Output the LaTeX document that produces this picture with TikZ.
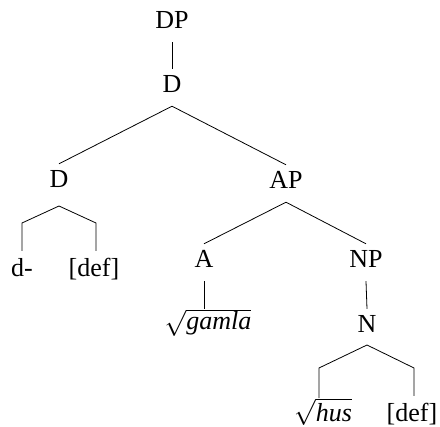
\RequirePackage{fix-cm}
\documentclass[tikz,border=0pt]{standalone}
\usepackage{fontspec}
\setmainfont{Liberation Serif}
\begin{document}
\begin{tikzpicture}[x=1pt,y=1pt,
  every node/.style={font=\fontsize{26}{30}\selectfont},
  cat/.style={anchor=base,text height=17pt,text depth=6pt,inner xsep=2pt,inner ysep=7pt},
  leaf/.style={anchor=base,text height=18pt,text depth=6pt,inner xsep=2pt,inner ysep=8pt},
  rootnode/.style={anchor=base,inner sep=0pt},
  edge/.style={line width=0.8pt}]
\useasboundingbox (0,0) rectangle (440,-427);
% nodes
\node[cat] (DP) at (172,-29) {DP};
\node[cat] (D1) at (172,-93) {D};
\node[cat] (D2) at (59,-188) {D};
\node[cat] (AP) at (286,-189) {AP};
\node[leaf] (dm) at (22,-277) {d-};
\node[leaf] (def1) at (94,-277) {[def]};
\node[cat] (A) at (204,-268) {A};
\node[cat] (NP) at (366,-268) {NP};
\node[rootnode] (gamla) at (208,-330) {$\sqrt{\mbox{\itshape gamla}}$};
\node[cat] (N) at (367,-333) {N};
\node[rootnode] (hus) at (323,-422) {$\sqrt{\mbox{\itshape hus}}$};
\node[leaf] (def2) at (412,-422) {[def]};
% bracket points
\coordinate (dapex) at (59,-206);
\coordinate (dl) at (22,-223);
\coordinate (dr) at (96,-223);
\coordinate (napex) at (367,-345);
\coordinate (nl) at (319,-368);
\coordinate (nr) at (414,-368);
% connectors
\draw[edge] (DP.south) -- (D1.north);
\draw[edge] (D1.south) -- (D2.north);
\draw[edge] (D1.south) -- (AP.north);
\draw[edge] (dm.north) -- (dl) -- (dapex) -- (dr) -- (dr |- def1.north);
\draw[edge] (AP.south) -- (A.north);
\draw[edge] (AP.south) -- (NP.north);
\draw[edge] (A.south) -- (A.south |- gamla.north);
\draw[edge] (NP.south) -- (N.north);
\draw[edge] (nl |- hus.north) -- (nl) -- (napex) -- (nr) -- (nr |- def2.north);
\end{tikzpicture}
\end{document}
